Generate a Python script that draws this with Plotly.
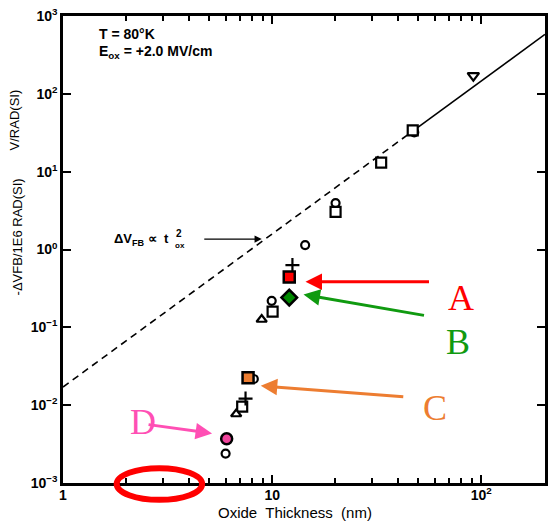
import plotly.graph_objects as go

# ---------------- data ----------------
circ_x = [14.38, 9.95, 8.17, 5.99, 20.1, 47.8]
circ_y = [1.14, 0.219, 0.0217, 0.00239, 3.95, 32.0]

sq_x = [47.0, 33.2, 20.1, 10.05, 7.19]
sq_y = [34.0, 13.1, 3.05, 0.159, 0.00955]

tri_x = [8.91, 6.73]
tri_y = [0.126, 0.0077]

tridown_x = [91.6]
tridown_y = [171.0]

plus_x = [12.5, 7.46]
plus_y = [0.63, 0.01216]

red_x, red_y = [12.07], [0.442]
green_x, green_y = [12.07], [0.241]
orange_x, orange_y = [7.67], [0.0225]
pink_x, pink_y = [6.06], [0.00371]

fit_dash_x = [1.0, 47.0]
fit_dash_y = [0.0171, 33.2]
fit_solid_x = [47.0, 201.5]
fit_solid_y = [33.2, 580.0]

y_tickvals = [1e-3, 1e-2, 1e-1, 1e0, 1e1, 1e2, 1e3]
y_ticktext = ["<b>10<sup>−3</sup></b>", "<b>10<sup>−2</sup></b>", "<b>10<sup>−1</sup></b>",
              "<b>10<sup>0</sup></b>", "<b>10<sup>1</sup></b>", "<b>10<sup>2</sup></b>",
              "<b>10<sup>3</sup></b>"]
x_tickvals = [1, 10, 100]
x_ticktext = ["<b>1</b>", "<b>10</b>", "<b>10<sup>2</sup></b>"]

# ---------------- figure ----------------
W, H = 554, 522
L, R, T, B = 63, 6, 12, 39
PW, PH = W - L - R, H - T - B


def px(x):
    return (x - L) / PW


def py(y):
    return (H - B - y) / PH


fig = go.Figure()

fig.add_trace(go.Scatter(x=fit_dash_x, y=fit_dash_y, mode="lines",
                         line=dict(color="black", width=1.6, dash="7px,5px"), hoverinfo="skip"))
fig.add_trace(go.Scatter(x=fit_solid_x, y=fit_solid_y, mode="lines",
                         line=dict(color="black", width=1.6), hoverinfo="skip"))

open_style = dict(color="white", line=dict(color="black", width=2.2))
fig.add_trace(go.Scatter(x=circ_x, y=circ_y, mode="markers",
                         marker=dict(symbol="circle", size=8, **open_style)))
fig.add_trace(go.Scatter(x=sq_x, y=sq_y, mode="markers",
                         marker=dict(symbol="square", size=10, **open_style)))
fig.add_trace(go.Scatter(x=tri_x, y=tri_y, mode="markers",
                         marker=dict(symbol="triangle-up", size=9, **open_style)))
fig.add_trace(go.Scatter(x=tridown_x, y=tridown_y, mode="markers",
                         marker=dict(symbol="triangle-down", size=10, **open_style)))
fig.add_trace(go.Scatter(x=plus_x, y=plus_y, mode="markers",
                         marker=dict(symbol="cross-thin", size=10,
                                     line=dict(color="black", width=2.2))))

fig.add_trace(go.Scatter(x=red_x, y=red_y, mode="markers",
                         marker=dict(symbol="square", size=11, color="#ff0000",
                                     line=dict(color="black", width=2.5))))
fig.add_trace(go.Scatter(x=green_x, y=green_y, mode="markers",
                         marker=dict(symbol="diamond", size=12, color="#008a00",
                                     line=dict(color="black", width=2.5))))
fig.add_trace(go.Scatter(x=orange_x, y=orange_y, mode="markers",
                         marker=dict(symbol="square", size=11, color="#ed7d31",
                                     line=dict(color="black", width=2.5))))
fig.add_trace(go.Scatter(x=pink_x, y=pink_y, mode="markers",
                         marker=dict(symbol="circle", size=11, color="#f0449c",
                                     line=dict(color="black", width=2.5))))

annotations = []


def text(xp, yp, s, size=13, color="black", family="Liberation Sans", xanchor="left",
         angle=0, yanchor="middle"):
    annotations.append(dict(xref="paper", yref="paper", x=px(xp), y=py(yp), text=s,
                            showarrow=False, xanchor=xanchor, yanchor=yanchor, textangle=angle,
                            borderpad=0,
                            font=dict(size=size, color=color, family=family)))


def arrow(x0, y0, x1, y1, color, width=3, size=1.1, head=2):
    annotations.append(dict(xref="paper", yref="paper", x=px(x1), y=py(y1),
                            ax=x0 - x1, ay=y0 - y1, axref="pixel", ayref="pixel",
                            text="", showarrow=True, arrowhead=head, arrowsize=size,
                            arrowwidth=width, arrowcolor=color))


text(98, 30, "<b>T = 80°K</b>", size=14)
text(98, 48, "<b>E<sub>ox</sub> = +2.0 MV/cm</b>", size=14)
text(113, 237, "<b>ΔV<sub>FB</sub> ∝  t</b>", size=13)
text(176, 231, "<b>2</b>", size=10)
text(175, 243, "<b>ox</b>", size=8)
arrow(204, 237, 263, 237, "black", width=1.2, size=1.2, head=2)

arrow(432, 280, 307, 280, "#ff0000")
arrow(427, 314, 305, 293, "#109a10")
arrow(406, 396, 262, 385, "#ed7d31")
arrow(148, 424, 213, 433, "#ff4fb4")

text(463, 296, "A", size=36, color="#ff0000", family="Liberation Serif", xanchor="center")
text(460, 341, "B", size=36, color="#109a10", family="Liberation Serif", xanchor="center")
text(437, 407, "C", size=36, color="#ed7d31", family="Liberation Serif", xanchor="center")
text(143, 421, "D", size=36, color="#ff4fb4", family="Liberation Serif", xanchor="center")

text(14, 117, "V/RAD(SI)", size=13, xanchor="center", angle=-90)
text(17, 235, "-ΔVFB/1E6 RAD(SI)", size=13, xanchor="center", angle=-90)
text(296, 513, "Oxide  Thickness  (nm)", size=15, xanchor="center")

fig.update_layout(annotations=annotations)

fig.add_shape(type="circle", xref="paper", yref="paper",
              x0=px(117), x1=px(203), y0=py(500), y1=py(468),
              line=dict(color="#ff0000", width=6))

axis_common = dict(showline=True, linecolor="black", linewidth=2.5, mirror="ticks",
                   ticks="inside", tickcolor="black", tickwidth=2, ticklen=8,
                   showgrid=False, zeroline=False,
                   tickfont=dict(family="Liberation Sans", size=14, color="black"))

fig.update_xaxes(type="log", range=[0, 2.3045], tickvals=x_tickvals, ticktext=x_ticktext,
                 ticklabelstandoff=-3,
                 minor=dict(ticks="inside", ticklen=5, tickwidth=1.5, tickcolor="black",
                            dtick="D1", showgrid=False),
                 **axis_common)
fig.update_yaxes(type="log", range=[-3, 3], tickvals=y_tickvals, ticktext=y_ticktext,
                 **axis_common)

fig.update_layout(width=W, height=H, margin=dict(l=L, r=R, t=T, b=B),
                  paper_bgcolor="white", plot_bgcolor="white", showlegend=False,
                  font=dict(family="Liberation Sans", color="black"))

fig.write_html("out.html")
